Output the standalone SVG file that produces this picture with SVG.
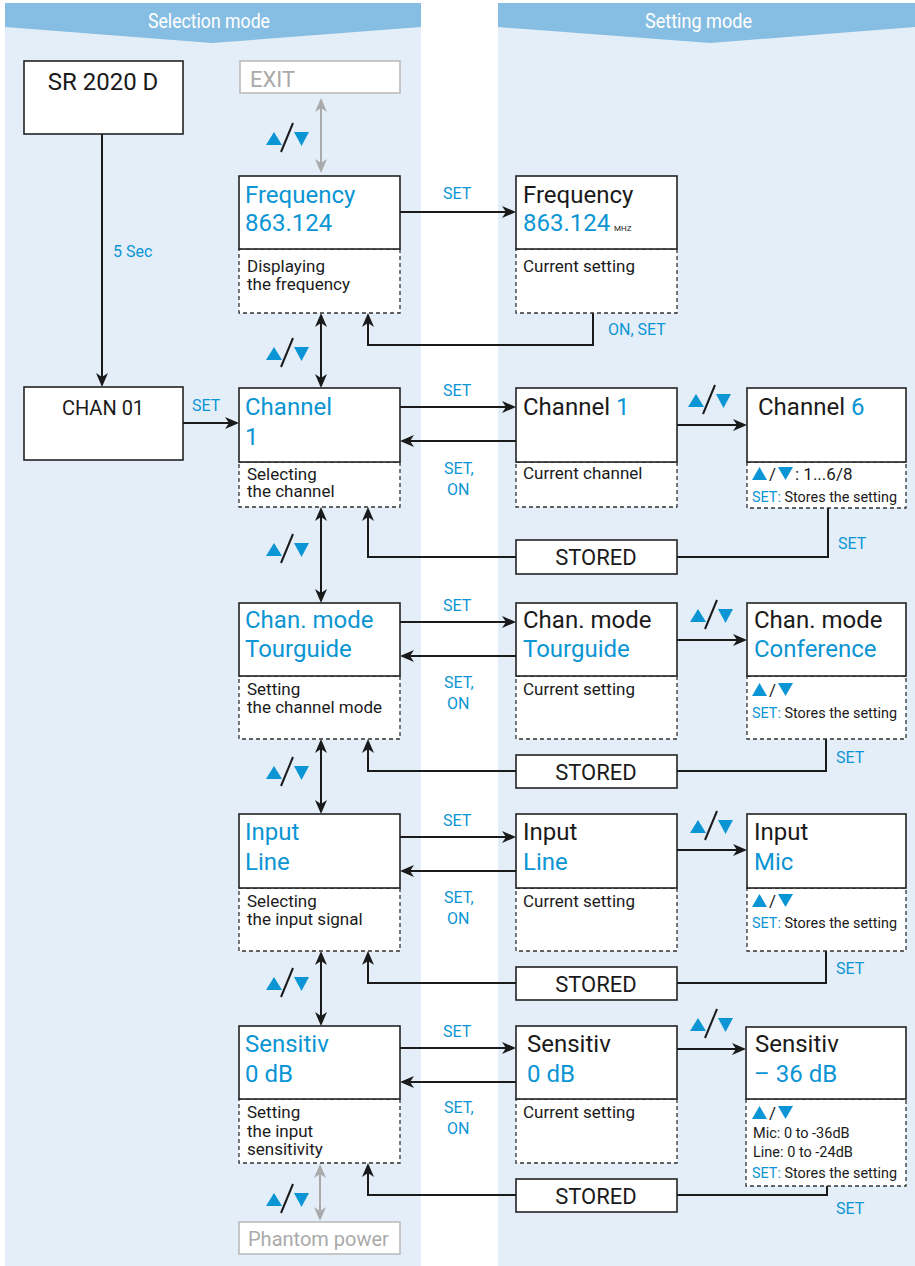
<svg xmlns="http://www.w3.org/2000/svg" xmlns:xlink="http://www.w3.org/1999/xlink" width="915" height="1266" viewBox="0 0 915 1266">
<style>
text{font-family:Roboto,"Noto Sans","Liberation Sans",sans-serif;}
.box{fill:#fff;stroke:#222;stroke-width:1.6;}
.dbox{fill:#fff;stroke:#333;stroke-width:1.3;stroke-dasharray:4 3;}
.gbox{fill:#fff;stroke:#bbb;stroke-width:1.6;}
.big{font-size:24px;}
.blue{fill:#0b95d4;}
.blk{fill:#1a1a1a;}
.desc{font-size:17px;fill:#1a1a1a;}
.lbl{font-size:16px;fill:#0b95d4;}
.hdr{font-size:20px;fill:#fff;}
.ln{fill:none;stroke:#1a1a1a;stroke-width:2;}
.gln{fill:none;stroke:#aaa;stroke-width:2;}
.tri{fill:#0b95d4;}
.narrow{font-size:15px;fill:#1a1a1a;}
.small{font-size:14.5px;fill:#1a1a1a;}
</style>
<defs>
<marker id="ah" viewBox="0 0 14 12" refX="11" refY="6" markerWidth="14" markerHeight="12" markerUnits="userSpaceOnUse" orient="auto-start-reverse"><path d="M0,0 L14,6 L0,12 L4,6 z" fill="#1a1a1a"/></marker>
<marker id="gah" viewBox="0 0 14 12" refX="11" refY="6" markerWidth="14" markerHeight="12" markerUnits="userSpaceOnUse" orient="auto-start-reverse"><path d="M0,0 L14,6 L0,12 L4,6 z" fill="#aaa"/></marker>
<g id="ud"><polygon class="tri" points="0,22 16,22 8,9"/><line x1="15" y1="29" x2="27" y2="0" stroke="#1a1a1a" stroke-width="2"/><polygon class="tri" points="28,9 43,9 35.5,23"/></g>
<g id="ud2"><polygon class="tri" points="0,13 15,13 7.5,0"/><polygon class="tri" points="26,0 41,0 33.5,13"/></g>
</defs>

<!-- panels -->
<rect x="5" y="3" width="416" height="1263" fill="#e3eef8"/>
<rect x="498" y="3" width="417" height="1263" fill="#e3eef8"/>
<polygon points="5,3 421,3 421,27 212,43 5,27" fill="#86bde3"/>
<polygon points="498,3 915,3 915,27 710,43 498,27" fill="#86bde3"/>
<text class="hdr" x="148" y="28" textLength="122" lengthAdjust="spacingAndGlyphs">Selection mode</text>
<text class="hdr" x="645" y="28" textLength="107" lengthAdjust="spacingAndGlyphs">Setting mode</text>

<!-- connectors -->
<g id="connectors">
<line class="ln" x1="102" y1="134" x2="102" y2="384" marker-end="url(#ah)"/>
<line class="ln" x1="183" y1="423" x2="236" y2="423" marker-end="url(#ah)"/>
<line class="gln" x1="321" y1="101" x2="321" y2="170" marker-start="url(#gah)" marker-end="url(#gah)"/>
<line class="ln" x1="321" y1="316" x2="321" y2="385" marker-start="url(#ah)" marker-end="url(#ah)"/>
<line class="ln" x1="321" y1="510" x2="321" y2="600" marker-start="url(#ah)" marker-end="url(#ah)"/>
<line class="ln" x1="321" y1="742" x2="321" y2="811" marker-start="url(#ah)" marker-end="url(#ah)"/>
<line class="ln" x1="321" y1="954" x2="321" y2="1023" marker-start="url(#ah)" marker-end="url(#ah)"/>
<line class="gln" x1="320" y1="1167" x2="320" y2="1218" marker-start="url(#gah)" marker-end="url(#gah)"/>
<!-- frequency -->
<line class="ln" x1="400" y1="212" x2="513" y2="212" marker-end="url(#ah)"/>
<polyline class="ln" points="593,313 593,345 368,345 368,316" marker-end="url(#ah)"/>
<!-- channel -->
<line class="ln" x1="400" y1="407" x2="513" y2="407" marker-end="url(#ah)"/>
<line class="ln" x1="516" y1="441" x2="403" y2="441" marker-end="url(#ah)"/>
<line class="ln" x1="677" y1="425" x2="744" y2="425" marker-end="url(#ah)"/>
<polyline class="ln" points="828,508 828,557 677,557"/>
<polyline class="ln" points="516,557 368,557 368,510" marker-end="url(#ah)"/>
<!-- chan mode -->
<line class="ln" x1="400" y1="622" x2="513" y2="622" marker-end="url(#ah)"/>
<line class="ln" x1="516" y1="656" x2="403" y2="656" marker-end="url(#ah)"/>
<line class="ln" x1="677" y1="640" x2="744" y2="640" marker-end="url(#ah)"/>
<polyline class="ln" points="826,739 826,771 677,771"/>
<polyline class="ln" points="516,771 368,771 368,742" marker-end="url(#ah)"/>
<!-- input -->
<line class="ln" x1="400" y1="837" x2="513" y2="837" marker-end="url(#ah)"/>
<line class="ln" x1="516" y1="871" x2="403" y2="871" marker-end="url(#ah)"/>
<line class="ln" x1="677" y1="850" x2="744" y2="850" marker-end="url(#ah)"/>
<polyline class="ln" points="826,951 826,983 677,983"/>
<polyline class="ln" points="516,983 368,983 368,954" marker-end="url(#ah)"/>
<!-- sensitiv -->
<line class="ln" x1="400" y1="1048" x2="513" y2="1048" marker-end="url(#ah)"/>
<line class="ln" x1="516" y1="1082" x2="403" y2="1082" marker-end="url(#ah)"/>
<line class="ln" x1="677" y1="1049" x2="743" y2="1049" marker-end="url(#ah)"/>
<polyline class="ln" points="827,1186 827,1195 677,1195"/>
<polyline class="ln" points="516,1195 368,1195 368,1166" marker-end="url(#ah)"/>
</g>

<!-- connector labels and icons -->
<g id="labels">
<text class="lbl" x="113" y="257">5 Sec</text>
<text class="lbl" x="192" y="411">SET</text>
<text class="lbl" x="443" y="199">SET</text>
<text class="lbl" x="608" y="335">ON, SET</text>
<text class="lbl" x="443" y="396">SET</text>
<text class="lbl" x="444" y="474">SET,</text>
<text class="lbl" x="447" y="495">ON</text>
<text class="lbl" x="838" y="549">SET</text>
<text class="lbl" x="443" y="611">SET</text>
<text class="lbl" x="444" y="688">SET,</text>
<text class="lbl" x="447" y="709">ON</text>
<text class="lbl" x="836" y="763">SET</text>
<text class="lbl" x="443" y="826">SET</text>
<text class="lbl" x="444" y="903">SET,</text>
<text class="lbl" x="447" y="924">ON</text>
<text class="lbl" x="836" y="974">SET</text>
<text class="lbl" x="443" y="1037">SET</text>
<text class="lbl" x="444" y="1113">SET,</text>
<text class="lbl" x="447" y="1134">ON</text>
<text class="lbl" x="836" y="1214">SET</text>
<use href="#ud" x="266" y="123"/>
<use href="#ud" x="266" y="338"/>
<use href="#ud" x="266" y="534"/>
<use href="#ud" x="266" y="757"/>
<use href="#ud" x="266" y="968"/>
<use href="#ud" x="266" y="1184"/>
<use href="#ud" x="688" y="385"/>
<use href="#ud" x="690" y="600"/>
<use href="#ud" x="690" y="811"/>
<use href="#ud" x="690" y="1009"/>
</g>

<g id="sr2020d"><rect class="box" x="24" y="61" width="159" height="73"/><text class="blk" x="103" y="90" font-size="24" text-anchor="middle">SR 2020 D</text></g>
<g id="chan01"><rect class="box" x="24" y="387" width="159" height="73"/><text class="blk" x="103" y="415" font-size="20" text-anchor="middle">CHAN 01</text></g>
<g id="exit"><rect class="gbox" x="240" y="61" width="160" height="32"/><text x="250" y="87" font-size="22" fill="#aaa">EXIT</text></g>
<g id="phantom"><rect class="gbox" x="239" y="1222" width="161" height="32"/><text x="248" y="1246" font-size="20" fill="#aaa">Phantom power</text></g>

<!-- frequency -->
<g id="freq-sel"><rect class="dbox" x="239" y="249" width="161" height="64"/><rect class="box" x="239" y="176" width="161" height="73"/>
<text class="big blue" x="245" y="203">Frequency</text><text class="big blue" x="245" y="231">863.124</text>
<text class="desc" x="247" y="272">Displaying</text><text class="desc" x="247" y="290">the frequency</text></g>
<g id="freq-set"><rect class="dbox" x="516" y="249" width="161" height="64"/><rect class="box" x="516" y="176" width="161" height="73"/>
<text class="big blk" x="523" y="203">Frequency</text><text class="big blue" x="523" y="231">863.124</text><text class="blk" x="614" y="231" font-size="8">MHZ</text>
<text class="desc" x="523" y="272">Current setting</text></g>

<!-- channel -->
<g id="chan-sel"><rect class="dbox" x="239" y="462" width="161" height="45"/><rect class="box" x="239" y="388" width="161" height="74"/>
<text class="big blue" x="245" y="415">Channel</text><text class="big blue" x="245" y="445">1</text>
<text class="desc" x="247" y="480">Selecting</text><text class="desc" x="247" y="497">the channel</text></g>
<g id="chan-set"><rect class="dbox" x="516" y="462" width="161" height="45"/><rect class="box" x="516" y="388" width="161" height="74"/>
<text class="big blk" x="523" y="415">Channel <tspan class="blue">1</tspan></text>
<text class="desc" x="523" y="479">Current channel</text></g>
<g id="chan-new"><rect class="dbox" x="747" y="462" width="159" height="46"/><rect class="box" x="747" y="388" width="159" height="74"/>
<text class="big blk" x="758" y="415">Channel <tspan class="blue">6</tspan></text>
<use href="#ud2" x="752" y="467"/><text class="desc" x="769" y="480">/</text><text class="desc" x="795" y="480">:  1...6/8</text>
<text class="narrow" x="752" y="502" textLength="145" lengthAdjust="spacingAndGlyphs"><tspan class="blue">SET:</tspan> Stores the setting</text></g>
<g id="stored1"><rect class="box" x="516" y="540" width="161" height="34"/><text class="blk" x="596" y="565" font-size="22" text-anchor="middle">STORED</text></g>

<!-- chan mode -->
<g id="mode-sel"><rect class="dbox" x="239" y="676" width="161" height="63"/><rect class="box" x="239" y="603" width="161" height="73"/>
<text class="big blue" x="245" y="628">Chan. mode</text><text class="big blue" x="245" y="657">Tourguide</text>
<text class="desc" x="247" y="695">Setting</text><text class="desc" x="247" y="713">the channel mode</text></g>
<g id="mode-set"><rect class="dbox" x="516" y="676" width="161" height="63"/><rect class="box" x="516" y="603" width="161" height="73"/>
<text class="big blk" x="523" y="628">Chan. mode</text><text class="big blue" x="523" y="657">Tourguide</text>
<text class="desc" x="523" y="695">Current setting</text></g>
<g id="mode-new"><rect class="dbox" x="747" y="676" width="159" height="63"/><rect class="box" x="747" y="603" width="159" height="73"/>
<text class="big blk" x="754" y="628">Chan. mode</text><text class="big blue" x="754" y="657">Conference</text>
<use href="#ud2" x="752" y="683"/><text class="desc" x="769" y="696">/</text>
<text class="narrow" x="752" y="718" textLength="145" lengthAdjust="spacingAndGlyphs"><tspan class="blue">SET:</tspan> Stores the setting</text></g>
<g id="stored2"><rect class="box" x="516" y="755" width="161" height="33"/><text class="blk" x="596" y="780" font-size="22" text-anchor="middle">STORED</text></g>

<!-- input -->
<g id="input-sel"><rect class="dbox" x="239" y="888" width="161" height="63"/><rect class="box" x="239" y="814" width="161" height="74"/>
<text class="big blue" x="245" y="840">Input</text><text class="big blue" x="245" y="870">Line</text>
<text class="desc" x="247" y="907">Selecting</text><text class="desc" x="247" y="925">the input signal</text></g>
<g id="input-set"><rect class="dbox" x="516" y="888" width="161" height="63"/><rect class="box" x="516" y="814" width="161" height="74"/>
<text class="big blk" x="523" y="840">Input</text><text class="big blue" x="523" y="870">Line</text>
<text class="desc" x="523" y="907">Current setting</text></g>
<g id="input-new"><rect class="dbox" x="747" y="888" width="159" height="63"/><rect class="box" x="747" y="814" width="159" height="74"/>
<text class="big blk" x="754" y="840">Input</text><text class="big blue" x="754" y="870">Mic</text>
<use href="#ud2" x="752" y="894"/><text class="desc" x="769" y="907">/</text>
<text class="narrow" x="752" y="928" textLength="145" lengthAdjust="spacingAndGlyphs"><tspan class="blue">SET:</tspan> Stores the setting</text></g>
<g id="stored3"><rect class="box" x="516" y="967" width="161" height="33"/><text class="blk" x="596" y="992" font-size="22" text-anchor="middle">STORED</text></g>

<!-- sensitiv -->
<g id="sens-sel"><rect class="dbox" x="239" y="1099" width="161" height="64"/><rect class="box" x="239" y="1026" width="161" height="73"/>
<text class="big blue" x="245" y="1052">Sensitiv</text><text class="big blue" x="245" y="1082">0 dB</text>
<text class="desc" x="247" y="1118">Setting</text><text class="desc" x="247" y="1137">the input</text><text class="desc" x="247" y="1155">sensitivity</text></g>
<g id="sens-set"><rect class="dbox" x="516" y="1099" width="161" height="64"/><rect class="box" x="516" y="1026" width="161" height="73"/>
<text class="big blk" x="527" y="1052">Sensitiv</text><text class="big blue" x="527" y="1082">0 dB</text>
<text class="desc" x="523" y="1118">Current setting</text></g>
<g id="sens-new"><rect class="dbox" x="746" y="1099" width="160" height="87"/><rect class="box" x="746" y="1027" width="160" height="72"/>
<text class="big blk" x="755" y="1052">Sensitiv</text><text class="big blue" x="754" y="1082">– 36 dB</text>
<use href="#ud2" x="752" y="1106"/><text class="desc" x="769" y="1119">/</text>
<text class="small" x="753" y="1138">Mic: 0 to -36dB</text>
<text class="small" x="753" y="1157">Line: 0 to -24dB</text>
<text class="narrow" x="752" y="1178" textLength="145" lengthAdjust="spacingAndGlyphs"><tspan class="blue">SET:</tspan> Stores the setting</text></g>
<g id="stored4"><rect class="box" x="516" y="1179" width="161" height="33"/><text class="blk" x="596" y="1204" font-size="22" text-anchor="middle">STORED</text></g>
</svg>
